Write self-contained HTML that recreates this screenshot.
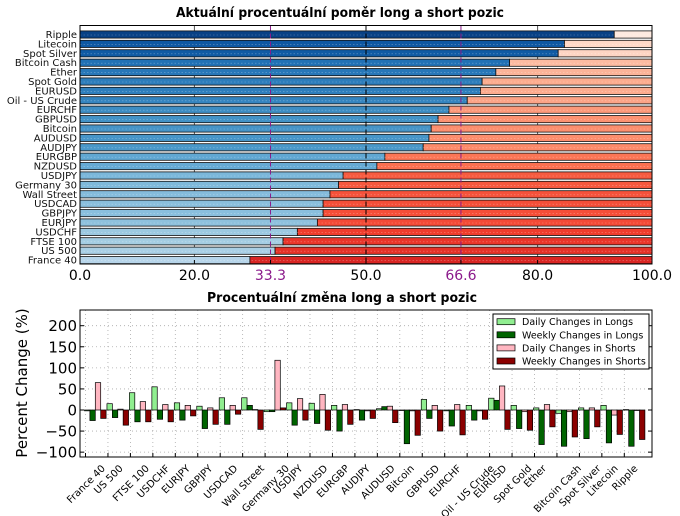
<!DOCTYPE html>
<html><head><meta charset="utf-8"><style>
html,body{margin:0;padding:0;background:#fff;}
svg{display:block;font-family:"DejaVu Sans","Liberation Sans",sans-serif;}
</style></head><body>
<svg id="c" width="680" height="516" viewBox="0 0 680 516" xmlns="http://www.w3.org/2000/svg"></svg>
<script>
// ---- top chart data ----
const topCats = ["Ripple","Litecoin","Spot Silver","Bitcoin Cash","Ether","Spot Gold","EURUSD","Oil - US Crude","EURCHF","GBPUSD","Bitcoin","AUDUSD","AUDJPY","EURGBP","NZDUSD","USDJPY","Germany 30","Wall Street","USDCAD","GBPJPY","EURJPY","USDCHF","FTSE 100","US 500","France 40"];
const longPct = [93.4,84.7,83.6,75.1,72.7,70.3,70.0,67.7,64.5,62.6,61.4,61.0,60.0,53.3,51.9,46.0,45.2,43.7,42.5,42.5,41.5,38.0,35.5,34.1,29.7];
const topTicks = [0,20,33.3,50,66.6,80,100];
const topTickLabels = ["0.0","20.0","33.3","50.0","66.6","80.0","100.0"];
// ---- bottom chart data ----
const botCats = ["France 40","US 500","FTSE 100","USDCHF","EURJPY","GBPJPY","USDCAD","Wall Street","Germany 30","USDJPY","NZDUSD","EURGBP","AUDJPY","AUDUSD","Bitcoin","GBPUSD","EURCHF","Oil - US Crude","EURUSD","Spot Gold","Ether","Bitcoin Cash","Spot Silver","Litecoin","Ripple"];
const dailyLongs  = [-2,15,41,55,17,9,29,29,-4,17,16,11,1,3,-1,25,-2,11,28,11,5,-8,5,11,1];
const weeklyLongs = [-25,-18,-28,-22,-24,-44,-34,11,-4,-36,-32,-50,-24,8,-80,-20,-38,-24,23,-44,-82,-86,-68,-78,-86];
const dailyShorts = [65,2,20,13,11,5,11,1,118,27,37,13,-2,9,-2,11,13,-2,57,-4,13,-4,5,-12,0];
const weeklyShorts= [-20,-36,-28,-28,-14,-34,-10,-46,5,-24,-48,-34,-20,-30,-60,-50,-59,-22,-46,-48,-40,-64,-40,-58,-70];
const yTicks = [200,150,100,50,0,-50,-100];
const yTickLabels = ["200","150","100","50","0","\u221250","\u2212100"];
const legendLabels = ["Daily Changes in Longs","Weekly Changes in Longs","Daily Changes in Shorts","Weekly Changes in Shorts"];

const NS="http://www.w3.org/2000/svg";
const svg=document.getElementById('c');
function mk(tag,attrs,parent){const e=document.createElementNS(NS,tag);for(const k in attrs)e.setAttribute(k,attrs[k]);(parent||svg).appendChild(e);return e;}
function lerpCmap(stops,t){t=Math.max(0,Math.min(1,t));const n=stops.length-1;const f=t*n;const i=Math.min(n-1,Math.floor(f));const u=f-i;
 const a=stops[i],b=stops[i+1];const h=s=>[parseInt(s.substr(1,2),16),parseInt(s.substr(3,2),16),parseInt(s.substr(5,2),16)];
 const A=h(a),B=h(b);return 'rgb('+A.map((v,k)=>Math.round(v+(B[k]-v)*u)).join(',')+')';}
const Blues=["#f7fbff","#deebf7","#c6dbef","#9ecae1","#6baed6","#4292c6","#2171b5","#08519c","#08306b"];
const Reds=["#fff5f0","#fee0d2","#fcbba1","#fc9272","#fb6a4a","#ef3b2c","#cb181d","#a50f15","#67000d"];

// ===== TOP CHART =====
const TL=80,TR=652,TT=25.5,TB=264;
const tx=v=>TL+v/100*(TR-TL);
const ty=j=>34.5+j*9.4;
const gTop=mk('g',{});


let t1=mk('text',{x:340,y:17,'text-anchor':'middle','font-weight':'bold','font-size':13.5,textLength:328,lengthAdjust:'spacingAndGlyphs'},gTop);
t1.textContent="Aktuální procentuální poměr long a short pozic";


mk('rect',{x:TL,y:TT,width:TR-TL,height:TB-TT,fill:'#fff'},gTop);
[20,80].forEach(v=>{mk('line',{x1:tx(v),x2:tx(v),y1:TT,y2:TB,stroke:'#555','stroke-width':1},gTop);});
topCats.forEach((c,j)=>{
  const y=ty(j);
  const bl=mk('rect',{x:tx(0),y:y-3.6,width:tx(longPct[j])-tx(0),height:7.2,fill:lerpCmap(Blues,longPct[j]/100),stroke:'#111','stroke-width':0.8},gTop);
  
  
  const s=100-longPct[j];
  const br=mk('rect',{x:tx(longPct[j]),y:y-3.6,width:tx(100)-tx(longPct[j]),height:7.2,fill:lerpCmap(Reds,s/100),stroke:'#111','stroke-width':0.8},gTop);
  
  
  mk('line',{x1:tx(0),x2:tx(100),y1:y+0.5,y2:y+0.5,stroke:'rgba(255,255,255,0.35)','stroke-width':0.6,'stroke-dasharray':'1.5,2'},gTop);
  const lb=mk('text',{x:TL-3,y:y+3.5,'text-anchor':'end','font-size':10,fill:'#111'},gTop);
  lb.textContent=c;
  
  
});
mk('line',{x1:tx(50),x2:tx(50),y1:TT,y2:TB,stroke:'#000','stroke-width':1,'stroke-dasharray':'5,3'},gTop);
[33.3,66.6].forEach(v=>{mk('line',{x1:tx(v),x2:tx(v),y1:TT,y2:TB,stroke:'#8b1a8b','stroke-width':1,'stroke-dasharray':'5,3'},gTop);});
mk('rect',{x:TL,y:TT,width:TR-TL,height:TB-TT,fill:'none',stroke:'#000','stroke-width':1},gTop);
topTicks.forEach((v,i)=>{
  mk('line',{x1:tx(v),x2:tx(v),y1:TB,y2:TB-4,stroke:'#000'},gTop);
  const t=mk('text',{x:tx(v),y:TB+16,'text-anchor':'middle','font-size':14,fill:(v===33.3||v===66.6)?'#8b1a8b':'#000'},gTop);
  t.textContent=topTickLabels[i];
  
  
});

// ===== BOTTOM CHART =====
const BL=80,BR=652,BT=310,BB=457;
const by=v=>410-v*0.4215;
const bx=i=>85.5+i*22.45;
const BW=5.4;
const gB=mk('g',{});


let t2=mk('text',{x:342,y:302,'text-anchor':'middle','font-weight':'bold','font-size':13.5,textLength:270,lengthAdjust:'spacingAndGlyphs'},gB);
t2.textContent="Procentuální změna long a short pozic";


yTicks.forEach((v,i)=>{
  mk('line',{x1:BL,x2:BR,y1:by(v),y2:by(v),stroke:'#aaa','stroke-width':0.8,'stroke-dasharray':'1,3'},gB);
  mk('line',{x1:BL,x2:BL+4,y1:by(v),y2:by(v),stroke:'#000'},gB);
  mk('line',{x1:BR,x2:BR-4,y1:by(v),y2:by(v),stroke:'#000'},gB);
  const t=mk('text',{x:BL-3,y:by(v)+5.5,'text-anchor':'end','font-size':15},gB);
  t.textContent=yTickLabels[i];
  
  
});
const series=[[dailyLongs,'#90ee90','daily-long'],[weeklyLongs,'#006400','weekly-long'],[dailyShorts,'#ffb6c1','daily-short'],[weeklyShorts,'#8b0000','weekly-short']];
botCats.forEach((c,i)=>{
  const tk=bx(i);
  mk('line',{x1:tk,x2:tk,y1:BT,y2:BB,stroke:'#aaa','stroke-width':0.8,'stroke-dasharray':'1,3'},gB);
  mk('line',{x1:tk,x2:tk,y1:BB,y2:BB-4,stroke:'#000'},gB);
  series.forEach((s,k)=>{
    const v=s[0][i];const y0=by(0),y1=by(v);
    const r=mk('rect',{x:tk-1+k*BW,y:Math.min(y0,y1),width:BW,height:Math.max(0.5,Math.abs(y1-y0)),fill:s[1],stroke:'#000','stroke-width':0.7},gB);
    
    
  });
  const t=mk('text',{'text-anchor':'end','font-size':10},gB);
  t.textContent=c;
  
  
  const L=t.getComputedTextLength();
  const ex=tk+L*0.354+2.8, ey=469;
  t.setAttribute('x',ex);t.setAttribute('y',ey);
  t.setAttribute('transform','rotate(-45 '+ex+' '+ey+')');
});
mk('rect',{x:BL,y:BT,width:BR-BL,height:BB-BT,fill:'none',stroke:'#000','stroke-width':1},gB);
const yl=mk('text',{x:0,y:0,'text-anchor':'middle','font-size':15,transform:'translate(27,383) rotate(-90)'},gB);
yl.textContent="Percent Change (%)";


// legend
const lg=mk('g',{},gB);


mk('rect',{x:493,y:314,width:156,height:55,fill:'#fff',stroke:'#000','stroke-width':1},lg);
legendLabels.forEach((lab,k)=>{
  const yy=321.7+k*13.1;
  const e=mk('g',{},lg);
  
  
  mk('rect',{x:497,y:yy-3,width:18,height:6,fill:series[k][1],stroke:'#000','stroke-width':0.7},e);
  const t=mk('text',{x:522,y:yy+3.5,'font-size':9.5},e);
  t.textContent=lab;
});
</script>
</body></html>
